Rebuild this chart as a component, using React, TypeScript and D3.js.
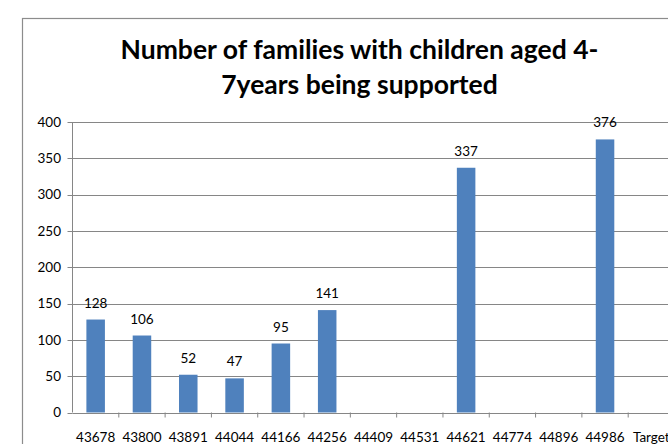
import React from "react";
import * as d3 from "d3";

const categories = ["43678","43800","43891","44044","44166","44256","44409","44531","44621","44774","44896","44986","Target"];
const values: (number | null)[] = [128,106,52,47,95,141,null,null,337,null,null,376,null];
const yTicks = [0,50,100,150,200,250,300,350,400];
const titleLines = ["Number of families with children aged 4-","7years being supported"];

export default function App() {
  const W = 668, H = 444;
  const left = 72.5, right = 674.5, top = 122, bottom = 412.5;
  const x = d3.scaleBand<string>().domain(categories).range([left, right]).paddingInner(0.6).paddingOuter(0.3);
  const xb = d3.scaleBand<string>().domain(categories).range([left, right]);
  const y = d3.scaleLinear().domain([0, 400]).range([bottom, top]);
  const font = "Lato, 'Open Sans', sans-serif";
  return (
    <svg width={W} height={H} style={{ position: "absolute", left: 0, top: 0, background: "#fff" }}>
      <rect x={0} y={0} width={W} height={H} fill="#fff" />
      <rect x={22.5} y={18.5} width={700} height={460} fill="none" stroke="#8c8c8c" strokeWidth={1.2} />
      {titleLines.map((t, i) => (
        <text key={i} x={359.5} y={59 + i * 35} textAnchor="middle" fontFamily={font} fontWeight={700} fontSize={26.5} fill="#000">{t}</text>
      ))}
      {yTicks.map(v => (
        <g key={v}>
          <line x1={left} x2={W} y1={Math.round(y(v)) + 0.5} y2={Math.round(y(v)) + 0.5} stroke="#868686" strokeWidth={1} />
          <line x1={left - 5} x2={left} y1={Math.round(y(v)) + 0.5} y2={Math.round(y(v)) + 0.5} stroke="#868686" />
          <text x={61} y={y(v)} dy="0.35em" textAnchor="end" fontFamily={font} fontSize={13.5} fill="#000">{v}</text>
        </g>
      ))}
      <line x1={left} x2={left} y1={top} y2={bottom} stroke="#868686" />
      {categories.map((c, i) => (
        <g key={c}>
          <line x1={xb(c)! + xb.bandwidth()} x2={xb(c)! + xb.bandwidth()} y1={bottom} y2={bottom + 5} stroke="#868686" />
          <text x={xb(c)! + xb.bandwidth() / 2} y={437} dy="0.35em" textAnchor="middle" fontFamily={font} fontSize={13.5} fill="#000">{c}</text>
        </g>
      ))}
      {categories.map((c, i) => {
        const v = values[i];
        if (v == null) return null;
        return (
          <g key={"b" + c}>
            <rect x={x(c)!} y={y(v)} width={x.bandwidth()} height={bottom - y(v)} fill="#4F81BD" />
            <text x={x(c)! + x.bandwidth() / 2} y={y(v) - 12} textAnchor="middle" fontFamily={font} fontSize={13.5} fill="#000">{v}</text>
          </g>
        );
      })}
    </svg>
  );
}
